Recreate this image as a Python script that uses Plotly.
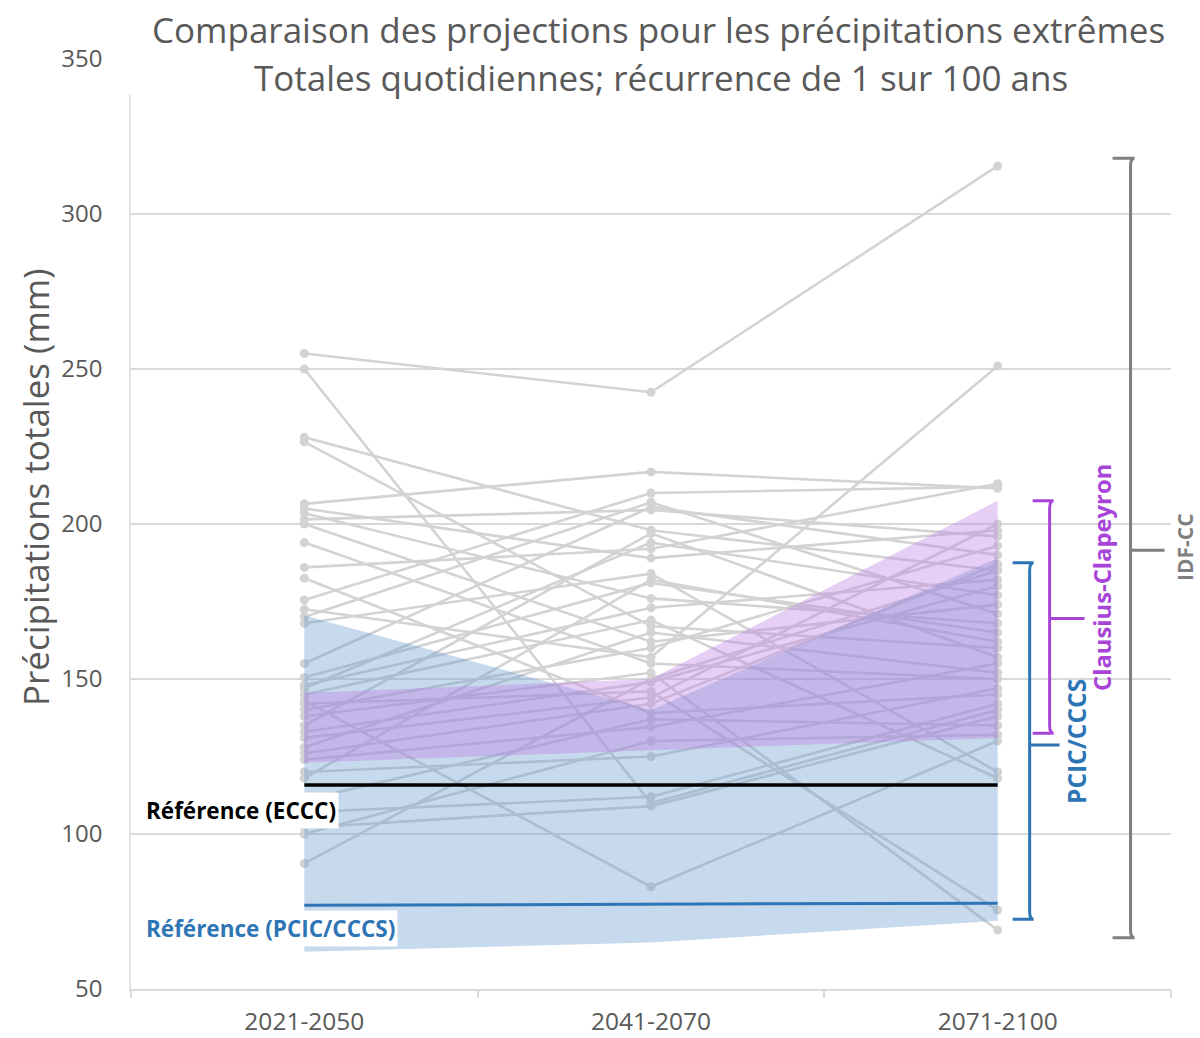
import plotly.graph_objects as go

# Periods (x categories)
periods = ["2021-2050", "2041-2070", "2071-2100"]
x_pos = [0, 1, 2]

# Individual model projections (mm), one list per model: [2021-2050, 2041-2070, 2071-2100]
model_runs = [
    [255, 242.5, 315.5],
    [250, 110, 140],
    [228, 198, 185],
    [226.5, 167, 160],
    [206.5, 216.8, 211.5],
    [205, 189, 198],
    [203.5, 176, 168],
    [201.5, 204.5, 196],
    [200, 162, 174],
    [194, 155, 150],
    [186, 192, 213],
    [182.5, 139, 145],
    [175.5, 210, 212],
    [172.5, 157, 251],
    [170, 207, 171],
    [168, 184, 120],
    [155, 205.5, 190],
    [150.5, 181, 165],
    [148, 173, 182],
    [147, 194, 177],
    [145, 169, 118],
    [143, 83, 130],
    [142, 146, 75.5],
    [140, 160, 193],
    [138, 152, 69],
    [135, 197, 157],
    [133, 149, 180],
    [131, 144, 200],
    [128, 165, 152],
    [126, 142, 187],
    [124, 134.5, 155],
    [120, 125, 147],
    [118, 182, 162],
    [111, 137, 135],
    [107, 112, 142],
    [102, 109, 138],
    [100, 130, 132],
    [90.5, 150, 185],
]

# PCIC/CCCS envelope
pcic_upper = [170.5, 140, 189]
pcic_lower = [62, 65, 72]

# Clausius-Clapeyron envelope
cc_upper = [145.5, 150, 207.5]
cc_lower = [123, 127, 131]

# Reference values
ref_eccc = [115.8, 115.8, 115.8]
ref_pcic = [77, 77.3, 77.7]

y_ticks = [50, 100, 150, 200, 250, 300, 350]

GRAY_LINE = "#D3D3D3"
BLUE = "#2E75B6"
PURPLE = "#A845D8"
DARK_GRAY = "#7F7F7F"
TEXT_GRAY = "#595959"
FONT = "Open Sans"

fig = go.Figure()

# Spaghetti of model runs
for run in model_runs:
    fig.add_trace(go.Scatter(
        x=x_pos, y=run, mode="lines+markers",
        line=dict(color=GRAY_LINE, width=2.6),
        marker=dict(color=GRAY_LINE, size=9),
        hoverinfo="skip",
    ))

# Envelopes drawn on top of the runs
fig.add_trace(go.Scatter(
    x=x_pos + x_pos[::-1], y=pcic_upper + pcic_lower[::-1],
    fill="toself", fillcolor="rgba(100,150,205,0.36)",
    line=dict(width=0), mode="lines", hoverinfo="skip",
))
fig.add_trace(go.Scatter(
    x=x_pos + x_pos[::-1], y=cc_upper + cc_lower[::-1],
    fill="toself", fillcolor="rgba(190,125,225,0.38)",
    line=dict(width=0), mode="lines", hoverinfo="skip",
))

# Reference lines
fig.add_trace(go.Scatter(x=x_pos, y=ref_eccc, mode="lines",
                         line=dict(color="black", width=3.5), hoverinfo="skip"))
fig.add_trace(go.Scatter(x=x_pos, y=ref_pcic, mode="lines",
                         line=dict(color=BLUE, width=3), hoverinfo="skip"))


def px_to_x(px):
    # horizontal pixel -> x data (categories 347 px apart, first at 304 px)
    return (px - 304) / 347


def bracket(top, bottom, mid, x_arm, x_spine, x_tip, color, width):
    r = 2.5  # corner rounding in data units (y)
    xa, xs, xt = px_to_x(x_arm), px_to_x(x_spine), px_to_x(x_tip)
    xm = px_to_x(x_spine + 4)
    path = (
        f"M {xa},{top} L {xm},{top} Q {xs},{top} {xs},{top - r} "
        f"L {xs},{bottom + r} Q {xs},{bottom} {xm},{bottom} L {xa},{bottom} "
        f"M {xs},{mid} L {xt},{mid}"
    )
    fig.add_shape(type="path", path=path, xref="x", yref="y",
                  line=dict(color=color, width=width), layer="above")


all_last = [r[2] for r in model_runs]
bracket(pcic_upper[2] - 1.5, pcic_lower[2] + 0.5, 128.7, 1013, 1030, 1060, BLUE, 3)
bracket(cc_upper[2], cc_lower[2] + 1.5, 169.5, 1033, 1050, 1085, PURPLE, 3)
bracket(max(all_last) + 2.5, min(all_last) - 2.5, 191.5, 1113, 1131, 1165, DARK_GRAY, 3)

# Cover the top grid line under the title
fig.add_shape(type="rect", xref="paper", yref="y", x0=-0.01, x1=1.01, y0=338.5, y1=352,
              fillcolor="white", line=dict(width=0), layer="above")

annotations = [
    dict(text="Comparaison des projections pour les précipitations extrêmes",
         x=(658 - 131) / 1040, y=(989 - 30) / 930, xref="paper", yref="paper",
         showarrow=False, xanchor="center", yanchor="middle",
         font=dict(family=FONT, size=35, color=TEXT_GRAY)),
    dict(text="Totales quotidiennes; récurrence de 1 sur 100 ans",
         x=(661 - 131) / 1040, y=(989 - 78) / 930, xref="paper", yref="paper",
         showarrow=False, xanchor="center", yanchor="middle",
         font=dict(family=FONT, size=35, color=TEXT_GRAY)),
    dict(text="Précipitations totales (mm)", textangle=-90,
         x=(35 - 131) / 1040, y=(989 - 487) / 930, xref="paper", yref="paper",
         showarrow=False, xanchor="center", yanchor="middle",
         font=dict(family=FONT, size=35, color=TEXT_GRAY)),
    dict(text="<b>Référence (ECCC)</b>", x=px_to_x(143), y=107.7, xref="x", yref="y",
         showarrow=False, xanchor="left", yanchor="middle", bgcolor="white",
         borderpad=2, font=dict(family=FONT, size=22.5, color="black")),
    dict(text="<b>Référence (PCIC/CCCS)</b>", x=px_to_x(143), y=69.4, xref="x", yref="y",
         showarrow=False, xanchor="left", yanchor="middle", bgcolor="white",
         borderpad=2, font=dict(family=FONT, size=22.5, color=BLUE)),
    dict(text="<b>PCIC/CCCS</b>", textangle=-90,
         x=(1076 - 131) / 1040, y=(989 - 742) / 930,
         xref="paper", yref="paper", showarrow=False, xanchor="center", yanchor="middle",
         font=dict(family=FONT, size=24.5, color=BLUE)),
    dict(text="<b>Clausius-Clapeyron</b>", textangle=-90,
         x=(1102 - 131) / 1040, y=(989 - 578) / 930,
         xref="paper", yref="paper", showarrow=False, xanchor="center", yanchor="middle",
         font=dict(family=FONT, size=23.8, color=PURPLE)),
    dict(text="<b>IDF-CC</b>", textangle=-90,
         x=(1185 - 131) / 1040, y=(989 - 547) / 930,
         xref="paper", yref="paper", showarrow=False, xanchor="center", yanchor="middle",
         font=dict(family=FONT, size=21, color=DARK_GRAY)),
]

fig.update_layout(
    width=1200, height=1038,
    margin=dict(l=131, r=29, t=59, b=49, autoexpand=False),
    plot_bgcolor="white", paper_bgcolor="white",
    showlegend=False,
    font=dict(family=FONT, color=TEXT_GRAY),
    annotations=annotations,
    xaxis=dict(
        range=[-0.5, 2.5], tickvals=x_pos, ticktext=periods,
        showgrid=False, zeroline=False, showline=True, automargin=False,
        linecolor="#D9D9D9", linewidth=1.5, ticks="",
        tickfont=dict(family=FONT, size=24.5, color=TEXT_GRAY),
        ticklabelstandoff=10,
        minor=dict(tickvals=[-0.5, 0.5, 1.5, 2.5], ticks="outside",
                   ticklen=7, tickcolor="#D9D9D9", tickwidth=1.5, showgrid=False),
    ),
    yaxis=dict(
        range=[50, 350], tickvals=y_ticks, automargin=False,
        showgrid=True, gridcolor="#D9D9D9", gridwidth=1.5,
        zeroline=False, showline=True, linecolor="#E3E3E3", linewidth=1.5,
        ticks="", tickfont=dict(family=FONT, size=24, color=TEXT_GRAY),
        ticklabelstandoff=22,
    ),
)

fig.write_html("out.html")
